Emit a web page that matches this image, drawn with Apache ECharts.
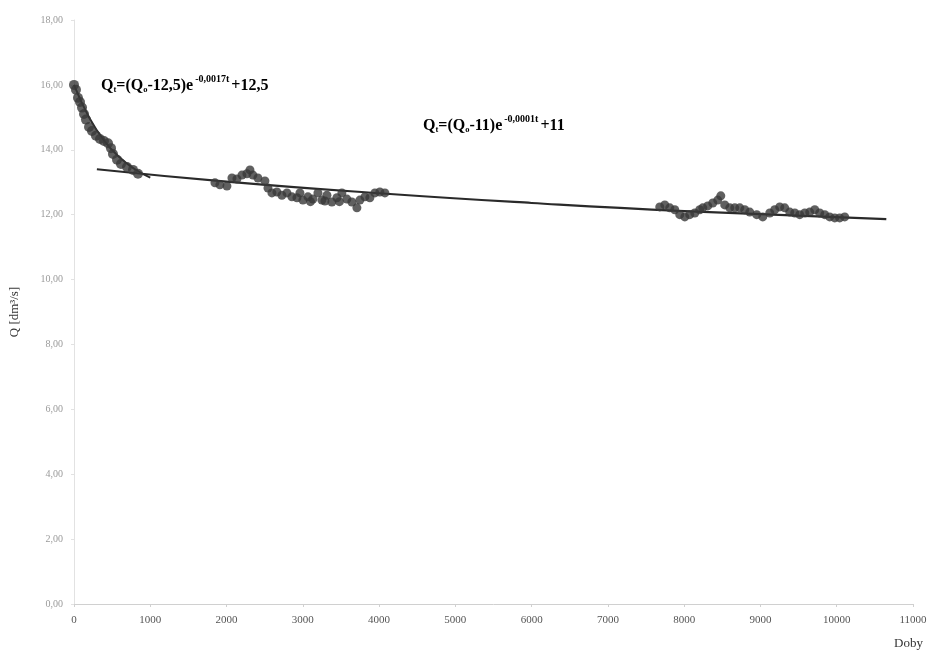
<!DOCTYPE html>
<html>
<head>
<meta charset="utf-8">
<script src="https://cdn.jsdelivr.net/npm/echarts@6/dist/echarts.min.js"></script>
<style>
  html, body { margin: 0; padding: 0; background: #fff; }
  #main { width: 930px; height: 658px; }
</style>
</head>
<body>
<div id="main"></div>
<script>
// measured points [t, Q]
var seg1 = [
  [0, 16.0], [26, 15.85], [52, 15.6], [79, 15.47], [105, 15.3], [131, 15.1],
  [157, 14.93], [197, 14.7], [236, 14.58], [288, 14.43], [341, 14.33], [393, 14.27],
  [446, 14.2], [485, 14.05], [511, 13.87], [564, 13.69], [616, 13.56], [695, 13.47],
  [773, 13.38], [839, 13.26]
];
var seg2 = [
  [1848, 12.98], [1913, 12.92], [2005, 12.88], [2071, 13.13], [2136, 13.1], [2202, 13.22],
  [2267, 13.26], [2307, 13.38], [2346, 13.22], [2411, 13.13], [2503, 13.04], [2543, 12.82],
  [2595, 12.67], [2660, 12.7], [2726, 12.6], [2792, 12.67], [2857, 12.55], [2923, 12.52],
  [2962, 12.67], [3001, 12.45], [3067, 12.55], [3132, 12.48], [3198, 12.67], [3250, 12.45],
  [3316, 12.6], [3381, 12.39], [3447, 12.52], [3512, 12.67], [3578, 12.48], [3643, 12.39],
  [3709, 12.21], [3748, 12.45], [3814, 12.55], [3879, 12.52], [3945, 12.67], [4010, 12.7],
  [4076, 12.67], [3100, 12.4], [3290, 12.42], [3480, 12.4]
];
var seg3 = [
  [7680, 12.24], [7746, 12.3], [7811, 12.21], [7877, 12.15], [7942, 12.0], [8008, 11.93],
  [8073, 12.0], [8139, 12.05], [8204, 12.15], [8244, 12.21], [8309, 12.27], [8375, 12.36],
  [8440, 12.45], [8480, 12.58], [8532, 12.3], [8598, 12.21], [8663, 12.21], [8729, 12.21],
  [8794, 12.15], [8860, 12.08], [8951, 12.0], [9030, 11.93], [9122, 12.05], [9187, 12.15],
  [9253, 12.24], [9318, 12.21], [9384, 12.08], [9450, 12.05], [9515, 12.0], [9581, 12.05],
  [9646, 12.08], [9712, 12.15], [9777, 12.05], [9843, 12.0], [9908, 11.93], [9974, 11.9],
  [10039, 11.9], [10105, 11.93]
];
// fitted curves
var fit1 = [[0, 16.0], [200, 14.99], [400, 14.27], [600, 13.76], [800, 13.4], [1000, 13.14]];
var fit2 = [[300, 13.4], [2000, 13.02], [4000, 12.66], [6000, 12.36], [8000, 12.11], [10650, 11.86]];

var yTicks = [0, 2, 4, 6, 8, 10, 12, 14, 16, 18];

var serif = '"Liberation Serif", "DejaVu Serif", serif';
var dotColor = '#383838';

var formulaRich = {
  b: { fontFamily: serif, fontWeight: 'bold', fontSize: 16, color: '#1e1e1e', lineHeight: 22, verticalAlign: 'bottom' },
  s: { fontFamily: serif, fontWeight: 'bold', fontSize: 8.5, color: '#1e1e1e', lineHeight: 20, verticalAlign: 'bottom' },
  p: { fontFamily: serif, fontWeight: 'bold', fontSize: 10, color: '#1e1e1e', lineHeight: 20, verticalAlign: 'top', padding: [2, 2, 0, 2] }
};

var myChart = echarts.init(document.getElementById('main'));
myChart.setOption({
  animation: false,
  backgroundColor: '#fff',
  grid: { left: 74, right: 17, top: 20, bottom: 54 },
  xAxis: {
    type: 'value',
    min: 0, max: 11000, interval: 1000,
    name: 'Doby',
    nameLocation: 'end',
    nameGap: 10,
    nameTextStyle: { fontFamily: serif, fontSize: 13, color: '#333', align: 'right', verticalAlign: 'top', padding: [33, 0, 0, 0] },
    axisLine: { lineStyle: { color: '#d0d0d0' } },
    axisTick: { length: 3, lineStyle: { color: '#d0d0d0' } },
    axisLabel: {
      fontFamily: serif, fontSize: 11, color: '#555', margin: 11,
      formatter: function (v) { return String(v); }
    },
    splitLine: { show: false }
  },
  yAxis: {
    type: 'value',
    min: yTicks[0], max: yTicks[yTicks.length - 1], interval: 2,
    name: 'Q [dm³/s]',
    nameLocation: 'middle',
    nameGap: 53,
    nameTextStyle: { fontFamily: serif, fontSize: 13, color: '#333' },
    axisLine: { show: true, lineStyle: { color: '#e2e2e2' } },
    axisTick: { show: true, length: 3, lineStyle: { color: '#e2e2e2' } },
    axisLabel: {
      fontFamily: serif, fontSize: 10, color: '#9a9a9a', margin: 11,
      formatter: function (v) { return v.toFixed(2).replace('.', ','); }
    },
    splitLine: { show: false }
  },
  series: [
    { type: 'line', data: fit1, showSymbol: false, smooth: true, lineStyle: { color: '#2a2a2a', width: 2 }, z: 2 },
    { type: 'line', data: fit2, showSymbol: false, smooth: true, lineStyle: { color: '#2a2a2a', width: 2.2 }, z: 2 },
    { type: 'scatter', data: seg1, symbolSize: 10, itemStyle: { color: dotColor }, z: 3 },
    { type: 'scatter', data: seg2, symbolSize: 9, itemStyle: { color: dotColor }, z: 3 },
    { type: 'scatter', data: seg3, symbolSize: 9, itemStyle: { color: dotColor }, z: 3 }
  ],
  graphic: [
    {
      type: 'text', left: 101, top: 72,
      style: { text: '{b|Q}{s|t}{b|=(Q}{s|o}{b|-12,5)e}{p|-0,0017t}{b|+12,5}', rich: formulaRich }
    },
    {
      type: 'text', left: 423, top: 112,
      style: { text: '{b|Q}{s|t}{b|=(Q}{s|o}{b|-11)e}{p|-0,0001t}{b|+11}', rich: formulaRich }
    }
  ]
});
</script>
</body>
</html>
